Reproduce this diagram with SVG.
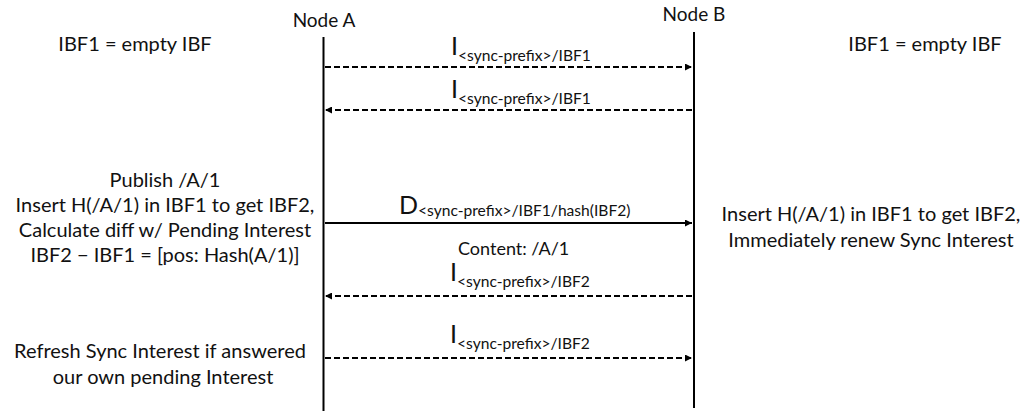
<svg xmlns="http://www.w3.org/2000/svg" width="1025" height="413" viewBox="0 0 1025 413">
  <style>
    text { font-family: Lato, "Noto Sans", sans-serif; fill: #111; }
    .note { font-size: 20px; text-anchor: middle; }
    .node { font-size: 19px; text-anchor: middle; }
    .big { font-size: 25px; }
    .sub { font-size: 15.6px; }
    .lifeline { stroke: #000; stroke-width: 2; }
    .msg { stroke: #000; stroke-width: 2; fill: none; }
    .dash { stroke-dasharray: 6 3; }
  </style>
  <defs>
    <marker id="head" viewBox="0 0 10 10" refX="10" refY="5" markerWidth="3.5" markerHeight="3.5" orient="auto-start-reverse" markerUnits="strokeWidth">
      <path d="M0,0 L10,5 L0,10 z" fill="#000"/>
    </marker>
  </defs>
  <rect width="1025" height="413" fill="#fff"/>

  <g id="node-a">
    <text class="node" x="324" y="27">Node A</text>
    <line class="lifeline" x1="323.5" y1="37" x2="323.5" y2="411"/>
  </g>
  <g id="node-b">
    <text class="node" x="694" y="21">Node B</text>
    <line class="lifeline" x1="694" y1="32" x2="694" y2="408"/>
  </g>

  <g id="notes">
    <text class="note" x="135" y="51">IBF1 = empty IBF</text>
    <text class="note" x="925" y="51">IBF1 = empty IBF</text>
    <text class="note" x="165" y="187">Publish /A/1</text>
    <text class="note" x="165" y="212">Insert H(/A/1) in IBF1 to get IBF2,</text>
    <text class="note" x="165" y="237">Calculate diff w/ Pending Interest</text>
    <text class="note" x="165" y="262">IBF2 − IBF1 = [pos: Hash(A/1)]</text>
    <text class="note" x="871" y="221">Insert H(/A/1) in IBF1 to get IBF2,</text>
    <text class="note" x="871" y="247">Immediately renew Sync Interest</text>
    <text class="note" x="160" y="358">Refresh Sync Interest if answered</text>
    <text class="note" x="163" y="384">our own pending Interest</text>
  </g>

  <g id="connectors">
    <line class="msg dash" x1="325" y1="67" x2="692" y2="67" marker-end="url(#head)"/>
    <line class="msg dash" x1="692" y1="110" x2="325" y2="110" marker-end="url(#head)"/>
    <line class="msg" x1="325" y1="223" x2="692" y2="223" marker-end="url(#head)"/>
    <line class="msg dash" x1="692" y1="296" x2="325" y2="296" marker-end="url(#head)"/>
    <line class="msg dash" x1="325" y1="358" x2="692" y2="358" marker-end="url(#head)"/>
  </g>

  <g id="labels">
    <text x="451" y="55"><tspan class="big">I</tspan><tspan class="sub" dy="6">&lt;sync-prefix&gt;/IBF1</tspan></text>
    <text x="451" y="98"><tspan class="big">I</tspan><tspan class="sub" dy="6">&lt;sync-prefix&gt;/IBF1</tspan></text>
    <text x="399" y="214"><tspan class="big">D</tspan><tspan class="sub" dy="2">&lt;sync-prefix&gt;/IBF1/hash(IBF2)</tspan></text>
    <text x="458" y="255" style="font-size:18px">Content: /A/1</text>
    <text x="450" y="281"><tspan class="big">I</tspan><tspan class="sub" dy="6">&lt;sync-prefix&gt;/IBF2</tspan></text>
    <text x="450" y="343"><tspan class="big">I</tspan><tspan class="sub" dy="6">&lt;sync-prefix&gt;/IBF2</tspan></text>
  </g>
</svg>
